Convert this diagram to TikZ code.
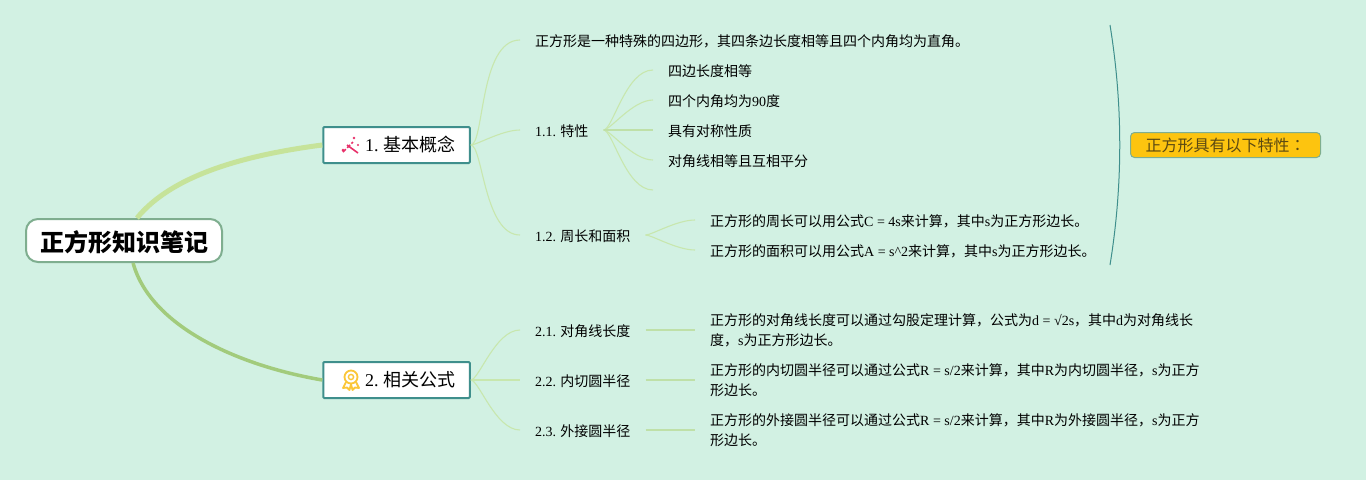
\documentclass[tikz,border=0pt]{standalone}
\usepackage{fontspec}
\setmainfont{Noto Sans CJK SC}
\newfontfamily\latinfont{Liberation Serif}
\newfontfamily\tcfont{Noto Sans CJK TC}
\usepackage{tikz}
\usetikzlibrary{positioning}
\newcommand{\lat}[1]{{\latinfont #1}}
\definecolor{mapbg}{HTML}{D2F1E3}
\definecolor{rootline}{HTML}{7FAE8F}
\definecolor{topicline}{HTML}{3F8F8C}
\definecolor{limbone}{HTML}{C6E39A}
\definecolor{limbtwo}{HTML}{A2CB7C}
\definecolor{twig}{HTML}{C8E7AE}
\definecolor{stem}{HTML}{BFE0A8}
\definecolor{calloutfill}{HTML}{FDC40F}
\definecolor{callouttext}{HTML}{5C4A12}
\definecolor{wandpink}{HTML}{E8306A}
\definecolor{medalgold}{HTML}{FBC638}
\tikzset{
  rootnode/.style={draw=rootline,line width=2pt,fill=white,rounded corners=12pt,minimum width=196pt,minimum height=43pt,inner sep=0pt,font=\fontsize{24}{28}\selectfont\bfseries,execute at begin node={\rule{0pt}{24pt}}},
  topicnode/.style={draw=topicline,line width=2pt,fill=white,rounded corners=1pt,minimum width=146.5pt,minimum height=36pt,inner sep=0pt,font=\fontsize{18}{22}\selectfont},
  textnode/.style={anchor=west,inner xsep=15pt,inner ysep=0pt,align=left,font=\fontsize{14}{20}\selectfont,execute at begin node={\rule{0pt}{14.3pt}}},
  twolines/.style={textnode,execute at begin node={\rule{0pt}{18.3pt}}},
  calloutnode/.style={draw=rootline,line width=1pt,fill=calloutfill,text=callouttext,rounded corners=4pt,minimum width=190pt,minimum height=25pt,inner sep=0pt,font=\fontsize{16}{20}\selectfont},
  twigline/.style={draw=twig,line width=1.1pt},
  stemline/.style={draw=stem,line width=2pt},
  twigbend/.style={out=0,in=180,out looseness=0.3,in looseness=0.9},
  wandicon/.pic={
    \draw[wandpink,line width=1.6pt] (-3,-1) -- (8,7);
    \draw[wandpink,line width=1.6pt,dash pattern=on 4pt off 2pt] (-7,6) -- (3,-4);
    \fill[wandpink] (4,-8) circle (1.3pt) (8,-1) circle (1.2pt) (-7,4) circle (1.5pt);
  },
  medalicon/.pic={
    \draw[medalgold,line width=1.8pt] (0,0) circle (6.5pt);
    \draw[medalgold,line width=1.4pt] (0,0) circle (2.6pt);
    \draw[medalgold,line width=1.8pt,line join=round] (-5,5) -- (-8,11) -- (-4,10.5) -- (-1.5,13) -- (0,7) -- (1.5,13) -- (4,10.5) -- (8,11) -- (5,5);
  },
}
\begin{document}
\begin{tikzpicture}[x=1pt,y=-1pt]
\useasboundingbox (0,0) rectangle (1366,480);
\fill[mapbg] (0,0) rectangle (1366,480);

% main topics
\node[rootnode] (root) at (124,240.5) {\hspace{1pt}正方形知识笔记};
\node[topicnode] (basic) at (396.5,145) {\hspace{28pt}\lat{1.} 基本概念};
\node[topicnode] (formula) at (396.5,380) {\hspace{28pt}\lat{2.} 相关公式};
\pic at (350,146) {wandicon};
\pic at (351,377) {medalicon};

\draw[limbone,line width=5pt] (root.60) .. controls (172,175) and (245,155) .. (basic.west);
\draw[limbtwo,line width=3.5pt] (root.-68) .. controls (150,325) and (235,365) .. (formula.west);

% first branch
\node[textnode] (intro) at (520,40) {正方形是一种特殊的四边形，其四条边长度相等且四个内角均为直角。};
\node[textnode] (props) at (520,130) {\lat{1.1.} 特性};
\node[textnode] (area) at (520,235) {\lat{1.2.} 周长和面积};
\node[textnode] (sides) at (653,70) {四边长度相等};
\node[textnode] (angles) at (653,100) {四个内角均为\lat{90}度};
\node[textnode] (sym) at (653,130) {具有对称性质};
\node[textnode] (diag) at (653,160) {对角线相等且互相平分};
\coordinate (blank) at (653,190);
\node[textnode] (perim) at (695,220) {正方形的周长可以用公式\lat{C = 4s}来计算，其中\lat{s}为正方形边长。};
\node[textnode] (square) at (695,250) {正方形的面积可以用公式\lat{A = s\textasciicircum 2}来计算，其中\lat{s}为正方形边长。};

\foreach \kid in {intro,props,area}
  \draw[twigline] (basic.east) to[twigbend] (\kid.west);
\foreach \kid in {sides,angles,diag}
  \draw[twigline] (props.east) to[twigbend] (\kid.west);
\draw[twigline] (props.east) to[twigbend] (blank);
\draw[stemline] (props.east) -- (sym.west);
\foreach \kid in {perim,square}
  \draw[twigline] (area.east) to[twigbend] (\kid.west);

% second branch
\node[textnode] (diaglen) at (520,330) {\lat{2.1.} 对角线长度};
\node[textnode] (inner) at (520,380) {\lat{2.2.} 内切圆半径};
\node[textnode] (outer) at (520,430) {\lat{2.3.} 外接圆半径};
\node[twolines] (diagnote) at (695,330) {正方形的对角线长度可以通过勾股定理计算，公式为\lat{d = √2s}，其中\lat{d}为对角线长\\度，\lat{s}为正方形边长。};
\node[twolines] (innernote) at (695,380) {正方形的内切圆半径可以通过公式\lat{R = s/2}来计算，其中\lat{R}为内切圆半径，\lat{s}为正方\\形边长。};
\node[twolines] (outernote) at (695,430) {正方形的外接圆半径可以通过公式\lat{R = s/2}来计算，其中\lat{R}为外接圆半径，\lat{s}为正方\\形边长。};

\foreach \kid in {diaglen,outer}
  \draw[twigline] (formula.east) to[twigbend] (\kid.west);
\draw[twigline] (formula.east) -- (inner.west);
\draw[stemline] (diaglen.east) -- (diagnote.west);
\draw[stemline] (inner.east) -- (innernote.west);
\draw[stemline] (outer.east) -- (outernote.west);

% summary bracket
\node[calloutnode] (summary) at (1225.5,145) {正方形具有以下特性{\tcfont ：}};
\coordinate (bracetop) at (1110,25);
\coordinate (bracebot) at (1110,265);
\draw[topicline,line width=1pt] (bracetop) .. controls (1123,105) and (1123,185) .. (bracebot);
\end{tikzpicture}
\end{document}
